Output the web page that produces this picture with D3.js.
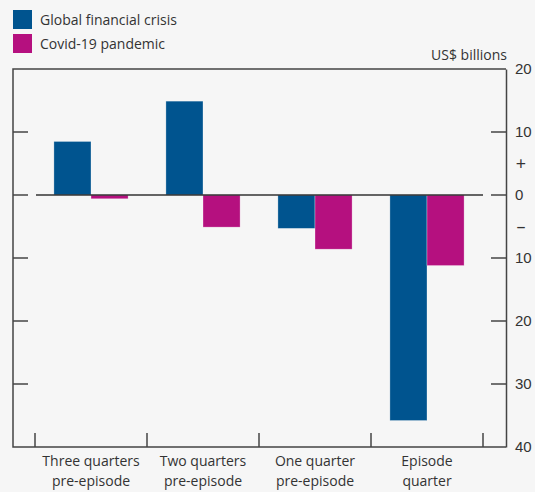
<!DOCTYPE html>
<html>
<head>
<meta charset="utf-8">
<script src="https://cdn.jsdelivr.net/npm/d3@7"></script>
<style>
  body { margin: 0; background: #f6f6f6; }
  svg { display: block; font-family: "Open Sans", "Noto Sans", sans-serif; }
</style>
</head>
<body>
<div id="chart"></div>
<script>
// data
var categories = [["Three quarters", "pre-episode"], ["Two quarters", "pre-episode"],
                  ["One quarter", "pre-episode"], ["Episode", "quarter"]];
var seriesNames = ["Global financial crisis", "Covid-19 pandemic"];
var gfc = [8.5, 14.9, -5.3, -35.8];
var covid = [-0.6, -5.1, -8.6, -11.2];
var yTicks = [20, 10, 0, -10, -20, -30, -40];

var colors = ["#00548f", "#b5107f"];
var W = 535, H = 492;
var plotL = 13, plotR = 506, plotT = 69, plotB = 447;

var svg = d3.select("#chart").append("svg")
    .attr("width", W).attr("height", H);

var keys = categories.map(function(c, i) { return i; });
var x = d3.scaleBand().domain(keys).range([35, 483]).paddingInner(0).paddingOuter(0);
var xSub = d3.scaleBand().domain([0, 1]).range([0, x.bandwidth()]).paddingOuter(0.51).paddingInner(0);
var y = d3.scaleLinear().domain([-40, 20]).range([plotB, plotT]);

var frame = "#444";

// frame: top, left, bottom
svg.append("path")
    .attr("d", "M" + plotR + "," + plotT + "H" + plotL + "V" + plotB + "H" + plotR)
    .attr("fill", "none").attr("stroke", frame).attr("stroke-width", 1.5);

// right axis
var yAxis = svg.append("g")
    .attr("transform", "translate(" + plotR + ",0)")
    .call(d3.axisRight(y).tickValues(yTicks).tickSize(0).tickPadding(9)
      .tickFormat(function(d) { return Math.abs(d); }));
yAxis.select(".domain").attr("stroke", frame).attr("stroke-width", 1.5);
yAxis.selectAll("text").attr("fill", "#333").style("font-size", "15px");

// inner ticks both sides (skip top/bottom)
yTicks.filter(function(d) { return d !== 20 && d !== -40; }).forEach(function(d) {
  svg.append("line").attr("x1", plotL).attr("x2", plotL + 15)
      .attr("y1", y(d)).attr("y2", y(d)).attr("stroke", frame).attr("stroke-width", 1.5);
  svg.append("line").attr("x1", plotR - 15).attr("x2", plotR)
      .attr("y1", y(d)).attr("y2", y(d)).attr("stroke", frame).attr("stroke-width", 1.5);
});

// bottom category ticks
var tickXs = keys.map(function(k) { return x(k); }).concat([x(3) + x.bandwidth()]);
tickXs.forEach(function(tx) {
  svg.append("line").attr("x1", tx).attr("x2", tx)
      .attr("y1", plotB).attr("y2", plotB - 14)
      .attr("stroke", frame).attr("stroke-width", 1.5);
});

// bars
var rows = [];
keys.forEach(function(k) {
  rows.push({ cat: k, s: 0, v: gfc[k] });
  rows.push({ cat: k, s: 1, v: covid[k] });
});
svg.selectAll("rect.bar").data(rows).enter().append("rect")
    .attr("class", "bar")
    .attr("x", function(d) { return x(d.cat) + xSub(d.s); })
    .attr("width", xSub.bandwidth())
    .attr("y", function(d) { return y(Math.max(0, d.v)); })
    .attr("height", function(d) { return Math.abs(y(d.v) - y(0)); })
    .attr("fill", function(d) { return colors[d.s]; })
    .attr("stroke", "rgba(255,255,255,0.5)").attr("stroke-width", 0.6);

// zero line
svg.append("line").attr("x1", 36).attr("x2", 483)
    .attr("y1", y(0)).attr("y2", y(0)).attr("stroke", "#333").attr("stroke-width", 1.5);

// + / - signs
svg.append("text").attr("x", 521).attr("y", y(5) + 6).attr("text-anchor", "middle")
    .attr("fill", "#333").style("font-size", "18px").text("+");
svg.append("text").attr("x", 521).attr("y", y(-5) + 6).attr("text-anchor", "middle")
    .attr("fill", "#333").style("font-size", "18px").text("–");

// unit label
svg.append("text").attr("x", 507).attr("y", 60).attr("text-anchor", "end")
    .attr("fill", "#333").style("font-size", "14px").text("US$ billions");

// category labels
keys.forEach(function(k) {
  var t = svg.append("text").attr("text-anchor", "middle")
      .attr("fill", "#333").style("font-size", "14px");
  categories[k].forEach(function(line, i) {
    t.append("tspan").attr("x", x(k) + x.bandwidth() / 2)
        .attr("y", 466 + i * 20).text(line);
  });
});

// legend
seriesNames.forEach(function(n, i) {
  svg.append("rect").attr("x", 13).attr("y", 10 + i * 24).attr("width", 19).attr("height", 19)
      .attr("fill", colors[i]);
  svg.append("text").attr("x", 40).attr("y", 25 + i * 24)
      .attr("fill", "#333").style("font-size", "14px").text(n);
});
</script>
</body>
</html>
